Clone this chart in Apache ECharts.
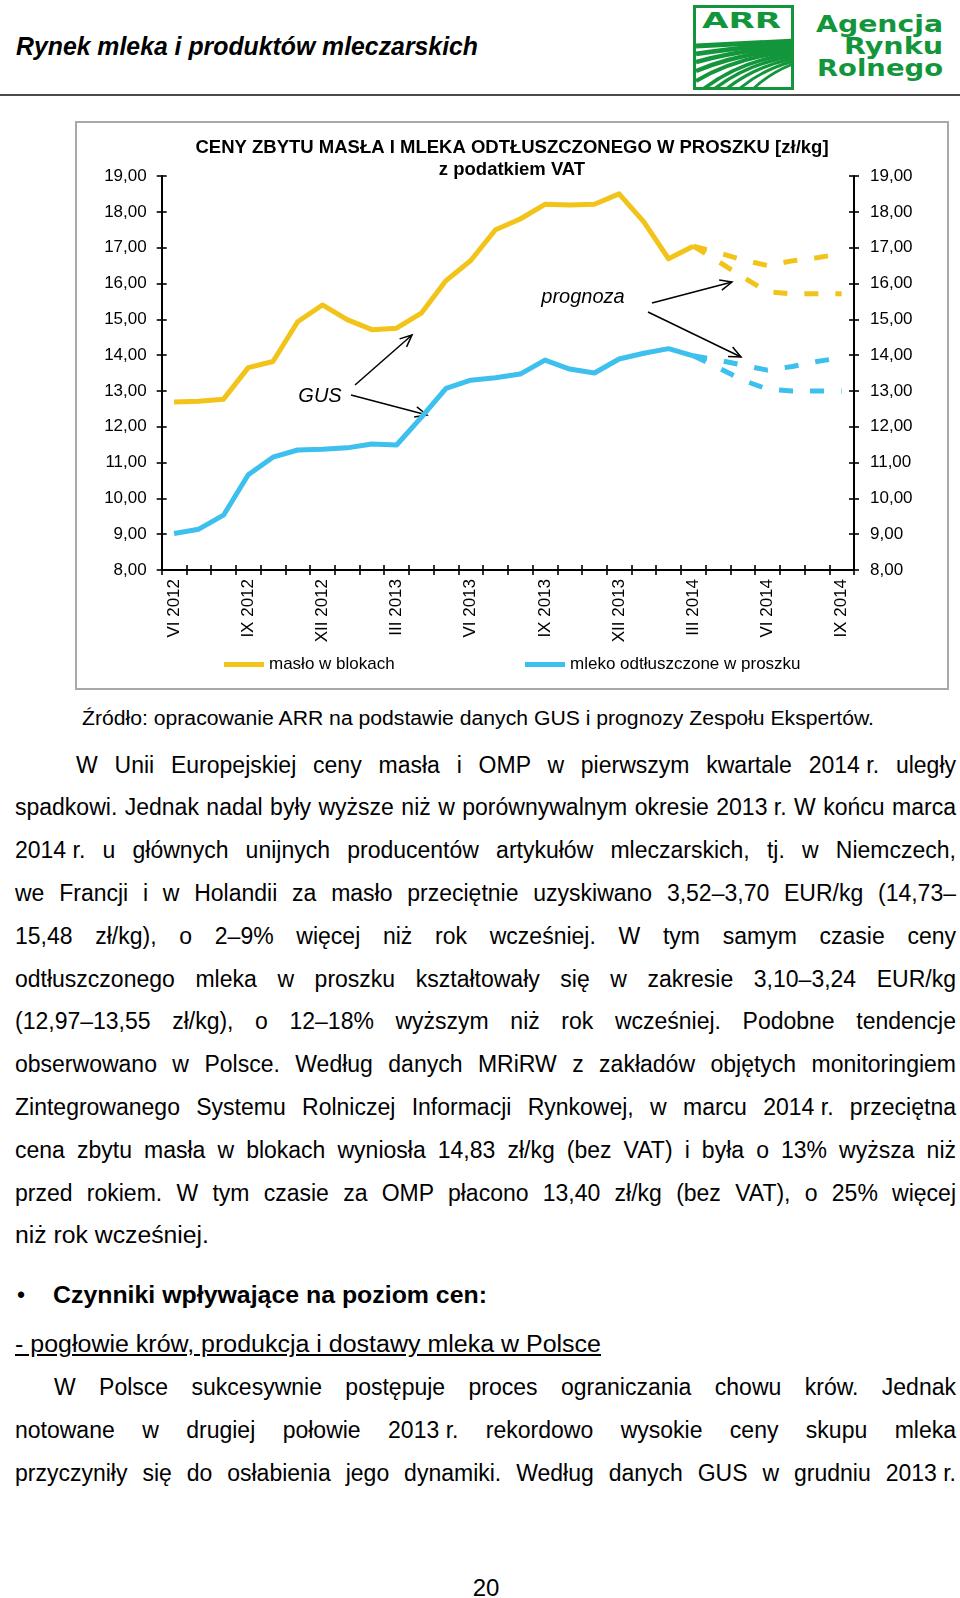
<!DOCTYPE html>
<html lang="pl">
<head>
<meta charset="utf-8">
<title>Rynek mleka i produktów mleczarskich</title>
<script src="https://cdn.jsdelivr.net/npm/echarts@6/dist/echarts.min.js"></script>
<style>
  html, body { margin: 0; padding: 0; }
  body { width: 960px; height: 1598px; position: relative; overflow: hidden; background: #fff;
         font-family: "Liberation Sans", Arial, Helvetica, sans-serif; color: #000; }
  .t { position: absolute; white-space: nowrap; line-height: 1; transform-origin: 0 0; }
  .j { position: absolute; line-height: 1; font-size: 23px; text-align: justify; text-align-last: justify; }
  .nb { display: inline-block; text-align: left; text-align-last: left; white-space: nowrap; }
  #hline { position: absolute; left: 0; top: 94px; width: 960px; height: 2px; background: #4a4a4a; }
  #box { position: absolute; left: 75px; top: 121px; width: 874px; height: 569px; box-sizing: border-box;
         border: 2px solid #a8a8a8; }
  #chart { width: 870px; height: 565px; }
  #logo { position: absolute; left: 680px; top: 0; }
</style>
</head>
<body>
<div class="t" data-x="16" data-base="55" data-fs="25" data-w="462" style="font-weight:bold;font-style:italic;">Rynek mleka i produktów mleczarskich</div>
<svg id="logo" width="280" height="100" viewBox="0 0 280 100">
  <defs><clipPath id="lc"><rect x="16" y="8" width="95" height="79"/></clipPath></defs>
  <rect x="14.5" y="6.5" width="98" height="82" fill="#fff" stroke="#13963b" stroke-width="3"/>
  <text x="22" y="28" textLength="79" lengthAdjust="spacingAndGlyphs" font-family="DejaVu Sans, Liberation Sans, sans-serif" font-size="22" font-weight="900" fill="#13963b">ARR</text>
  <g id="stripes" clip-path="url(#lc)" fill="none" stroke="#13963b"></g>
  <g font-family="DejaVu Sans, Liberation Sans, sans-serif" font-weight="900" font-size="23" fill="#13963b" text-anchor="end">
    <text x="263" y="31.5" textLength="127" lengthAdjust="spacingAndGlyphs">Agencja</text>
    <text x="263" y="54" textLength="99" lengthAdjust="spacingAndGlyphs">Rynku</text>
    <text x="263" y="76" textLength="126" lengthAdjust="spacingAndGlyphs">Rolnego</text>
  </g>
</svg>
<div id="hline"></div>

<div id="box"><div id="chart"></div></div>

<div class="t" data-x="82" data-base="725" data-fs="20" data-w="792">Źródło: opracowanie ARR na podstawie danych GUS i prognozy Zespołu Ekspertów.</div>

<div class="j" data-x="76" data-r="956" data-base="773">W Unii Europejskiej ceny masła i OMP w pierwszym kwartale <span class="nb">2014 r.</span> uległy</div>
<div class="j" data-x="15" data-r="956" data-base="815.8">spadkowi. Jednak nadal były wyższe niż w porównywalnym okresie <span class="nb">2013 r.</span> W końcu marca</div>
<div class="j" data-x="15" data-r="956" data-base="858.6"><span class="nb">2014 r.</span> u głównych unijnych producentów artykułów mleczarskich, tj. w Niemczech,</div>
<div class="j" data-x="15" data-r="956" data-base="901.4">we Francji i w Holandii za masło przeciętnie uzyskiwano 3,52–3,70 EUR/kg (14,73–</div>
<div class="j" data-x="15" data-r="956" data-base="944.2">15,48 zł/kg), o 2–9% więcej niż rok wcześniej. W tym samym czasie ceny</div>
<div class="j" data-x="15" data-r="956" data-base="987">odtłuszczonego mleka w proszku kształtowały się w zakresie 3,10–3,24 EUR/kg</div>
<div class="j" data-x="15" data-r="956" data-base="1029.8">(12,97–13,55 zł/kg), o 12–18% wyższym niż rok wcześniej. Podobne tendencje</div>
<div class="j" data-x="15" data-r="956" data-base="1072.6">obserwowano w Polsce. Według danych MRiRW z zakładów objętych monitoringiem</div>
<div class="j" data-x="15" data-r="956" data-base="1115.4">Zintegrowanego Systemu Rolniczej Informacji Rynkowej, w marcu <span class="nb">2014 r.</span> przeciętna</div>
<div class="j" data-x="15" data-r="956" data-base="1158.2">cena zbytu masła w blokach wyniosła 14,83 zł/kg (bez VAT) i była o 13% wyższa niż</div>
<div class="j" data-x="15" data-r="956" data-base="1201">przed rokiem. W tym czasie za OMP płacono 13,40 zł/kg (bez VAT), o 25% więcej</div>
<div class="t" data-x="15" data-base="1243.8" data-fs="23" data-w="194">niż rok wcześniej.</div>

<div class="t" data-x="17" data-base="1303" data-fs="23">•</div>
<div class="t" data-x="53" data-base="1303" data-fs="23" data-w="434" style="font-weight:bold;">Czynniki wpływające na poziom cen:</div>
<div class="t" data-x="15" data-base="1352" data-fs="23" data-w="586" style="text-decoration:underline;">- pogłowie krów, produkcja i dostawy mleka w Polsce</div>

<div class="j" data-x="54" data-r="956" data-base="1395">W Polsce sukcesywnie postępuje proces ograniczania chowu krów. Jednak</div>
<div class="j" data-x="15" data-r="956" data-base="1438">notowane w drugiej połowie <span class="nb">2013 r.</span> rekordowo wysokie ceny skupu mleka</div>
<div class="j" data-x="15" data-r="956" data-base="1481">przyczyniły się do osłabienia jego dynamiki. Według danych GUS w grudniu <span class="nb">2013 r.</span></div>

<div class="t" data-cx="486" data-base="1596" data-fs="24">20</div>

<script>
// ---------- chart data ----------
const categories = ['VI 2012','VII 2012','VIII 2012','IX 2012','X 2012','XI 2012','XII 2012',
  'I 2013','II 2013','III 2013','IV 2013','V 2013','VI 2013','VII 2013','VIII 2013','IX 2013',
  'X 2013','XI 2013','XII 2013','I 2014','II 2014','III 2014','IV 2014','V 2014','VI 2014',
  'VII 2014','VIII 2014','IX 2014'];
// masło w blokach (GUS), VI 2012 – III 2014
const butter = [12.69, 12.71, 12.77, 13.65, 13.82, 14.93, 15.40, 14.99, 14.71, 14.75, 15.17,
  16.08, 16.64, 17.50, 17.80, 18.21, 18.19, 18.21, 18.50, 17.72, 16.69, 17.04];
// mleko odtłuszczone w proszku (GUS), VI 2012 – III 2014
const smp = [9.02, 9.14, 9.53, 10.66, 11.15, 11.35, 11.37, 11.41, 11.52, 11.49, 12.26,
  13.07, 13.30, 13.37, 13.47, 13.86, 13.61, 13.50, 13.89, 14.05, 14.18, 13.98];
// prognozy, III 2014 – IX 2014
const forecastStart = 21;
const butterForecastHigh = [17.04, 16.86, 16.66, 16.50, 16.63, 16.72, 16.83];
const butterForecastLow  = [17.04, 16.62, 16.18, 15.77, 15.71, 15.71, 15.71];
const smpForecastHigh    = [13.98, 13.86, 13.72, 13.58, 13.68, 13.82, 13.93];
const smpForecastLow     = [13.98, 13.65, 13.30, 13.05, 13.00, 13.00, 13.00];
const yMin = 8, yMax = 19, yInterval = 1;

// ---------- page text placement ----------
document.querySelectorAll('.t').forEach(el => {
  const fs = +el.dataset.fs;
  el.style.fontSize = fs + 'px';
  el.style.top = (+el.dataset.base - 0.8465 * fs) + 'px';
  if (el.dataset.x) el.style.left = el.dataset.x + 'px';
  if (el.dataset.w) {
    const w = el.getBoundingClientRect().width;
    el.style.transform = 'scaleX(' + (+el.dataset.w / w) + ')';
  }
  if (el.dataset.cx) {
    const w = el.getBoundingClientRect().width;
    el.style.left = (+el.dataset.cx - w / 2) + 'px';
  }
});
document.querySelectorAll('.j').forEach(el => {
  const x = +el.dataset.x, r = +el.dataset.r;
  el.style.left = x + 'px';
  el.style.width = (r - x) + 'px';
  el.style.top = (+el.dataset.base - 0.8465 * 23) + 'px';
  let ls = 0;
  while (el.offsetHeight > 30 && ls > -2) { ls -= 0.1; el.style.letterSpacing = ls + 'px'; }
});

// ---------- logo stripes ----------
(function () {
  const g = document.getElementById('stripes');
  const starts = [[16,46],[16,54],[16,62],[16,71],[16,81],[22,90],[33,90],[45,90],[58,90],[72,90]];
  const ends = [41, 43.5, 46, 48.5, 51, 53.5, 56, 58.5, 61, 63.5];
  starts.forEach((s, k) => {
    const ex = 114, ey = ends[k];
    const cx = s[0] + (ex - s[0]) * 0.42, cy = ey + 3 + k * 0.7;
    const p = document.createElementNS('http://www.w3.org/2000/svg', 'path');
    p.setAttribute('d', `M${s[0]},${s[1]} Q${cx},${cy} ${ex},${ey}`);
    p.setAttribute('stroke-width', (5 - k * 0.25).toFixed(2));
    g.appendChild(p);
  });
})();

// ---------- chart ----------
const FONT = '"Liberation Sans", Arial, sans-serif';
const YELLOW = '#F2C419', BLUE = '#3DC0EE';
const padForecast = arr => Array(forecastStart).fill(null).concat(arr);
const fmt = v => v.toFixed(2).replace('.', ',');
const AX = { color: '#000', width: 2 };
const TK = { color: '#000', width: 1.6 };

function arrow(x1, y1, x2, y2) {
  const a = Math.atan2(y2 - y1, x2 - x1), L = 13, s = 0.42;
  const p1 = [x2 - L * Math.cos(a - s), y2 - L * Math.sin(a - s)];
  const p2 = [x2 - L * Math.cos(a + s), y2 - L * Math.sin(a + s)];
  return [
    { type: 'line', shape: { x1, y1, x2, y2 }, style: { stroke: '#000', lineWidth: 1.5 } },
    { type: 'polyline', shape: { points: [p1, [x2, y2], p2] }, style: { stroke: '#000', lineWidth: 1.5, fill: null } }
  ];
}

const chart = echarts.init(document.getElementById('chart'), null, { renderer: 'canvas' });
const baseX = { type: 'category', data: categories, boundaryGap: true, position: 'bottom' };
const baseY = { type: 'value', min: yMin, max: yMax, interval: yInterval, splitLine: { show: false } };

const option = {
  animation: false,
  backgroundColor: '#fff',
  textStyle: { fontFamily: FONT },
  title: {
    text: 'CENY ZBYTU MASŁA I MLEKA ODTŁUSZCZONEGO W PROSZKU [zł/kg]\nz podatkiem VAT',
    left: 'center', top: 14, padding: 0,
    textStyle: { fontFamily: FONT, fontSize: 18.5, fontWeight: 'bold', lineHeight: 22, color: '#000' }
  },
  legend: [
    { data: ['masło w blokach'], left: 147, top: 533, padding: 0, icon: 'rect', itemWidth: 40, itemHeight: 5,
      textStyle: { fontFamily: FONT, fontSize: 17, color: '#000' } },
    { data: ['mleko odtłuszczone w proszku'], left: 448, top: 533, padding: 0, icon: 'rect', itemWidth: 40, itemHeight: 5,
      textStyle: { fontFamily: FONT, fontSize: 17, color: '#000' } }
  ],
  grid: { left: 84.7, right: 93, top: 53, bottom: 118, containLabel: false },
  xAxis: [
    Object.assign({}, baseX, {
      axisLine: { show: true, lineStyle: AX },
      axisTick: { show: true, interval: 0, length: 5, lineStyle: TK },
      axisLabel: { interval: 2, rotate: 90, margin: 9, fontSize: 17, color: '#000', fontFamily: FONT }
    }),
    Object.assign({}, baseX, {
      axisLine: { show: false },
      axisTick: { show: true, inside: true, interval: 0, length: 5, lineStyle: TK },
      axisLabel: { show: false }
    })
  ],
  yAxis: [
    Object.assign({}, baseY, { position: 'left',
      axisLine: { show: true, lineStyle: AX }, axisTick: { show: true, length: 5, lineStyle: TK },
      axisLabel: { formatter: fmt, margin: 15, fontSize: 17, color: '#000', fontFamily: FONT } }),
    Object.assign({}, baseY, { position: 'right',
      axisLine: { show: true, lineStyle: AX }, axisTick: { show: true, length: 5, lineStyle: TK },
      axisLabel: { formatter: fmt, margin: 16, fontSize: 17, color: '#000', fontFamily: FONT } }),
    Object.assign({}, baseY, { position: 'left',
      axisLine: { show: false }, axisTick: { show: true, inside: true, length: 5, lineStyle: TK },
      axisLabel: { show: false } }),
    Object.assign({}, baseY, { position: 'right',
      axisLine: { show: false }, axisTick: { show: true, inside: true, length: 5, lineStyle: TK },
      axisLabel: { show: false } })
  ],
  series: [
    { name: 'masło prognoza A', type: 'line', data: padForecast(butterForecastHigh), symbol: 'none', silent: true,
      lineStyle: { color: YELLOW, width: 5, type: [14, 17], cap: 'butt' }, itemStyle: { color: YELLOW }, z: 2 },
    { name: 'masło prognoza B', type: 'line', data: padForecast(butterForecastLow), symbol: 'none', silent: true,
      lineStyle: { color: YELLOW, width: 5, type: [14, 17], cap: 'butt' }, itemStyle: { color: YELLOW }, z: 2 },
    { name: 'mleko prognoza A', type: 'line', data: padForecast(smpForecastHigh), symbol: 'none', silent: true,
      lineStyle: { color: BLUE, width: 5, type: [14, 17], cap: 'butt' }, itemStyle: { color: BLUE }, z: 2 },
    { name: 'mleko prognoza B', type: 'line', data: padForecast(smpForecastLow), symbol: 'none', silent: true,
      lineStyle: { color: BLUE, width: 5, type: [14, 17], cap: 'butt' }, itemStyle: { color: BLUE }, z: 2 },
    { name: 'masło w blokach', type: 'line', data: butter, symbol: 'none',
      lineStyle: { color: YELLOW, width: 5, join: 'round' }, itemStyle: { color: YELLOW }, z: 3 },
    { name: 'mleko odtłuszczone w proszku', type: 'line', data: smp, symbol: 'none',
      lineStyle: { color: BLUE, width: 5, join: 'round' }, itemStyle: { color: BLUE }, z: 3 }
  ],
  graphic: [
    { type: 'text', x: 243, y: 273, style: { text: 'GUS', font: 'italic 20px ' + FONT, fill: '#000', textAlign: 'center', textVerticalAlign: 'middle' } },
    { type: 'text', x: 506, y: 174, style: { text: 'prognoza', font: 'italic 20px ' + FONT, fill: '#000', textAlign: 'center', textVerticalAlign: 'middle' } }
  ].concat(arrow(278, 262, 335, 212), arrow(274, 272, 350, 292), arrow(575, 180, 655, 159), arrow(571, 189, 664, 234))
};
chart.setOption(option);
</script>
</body>
</html>
